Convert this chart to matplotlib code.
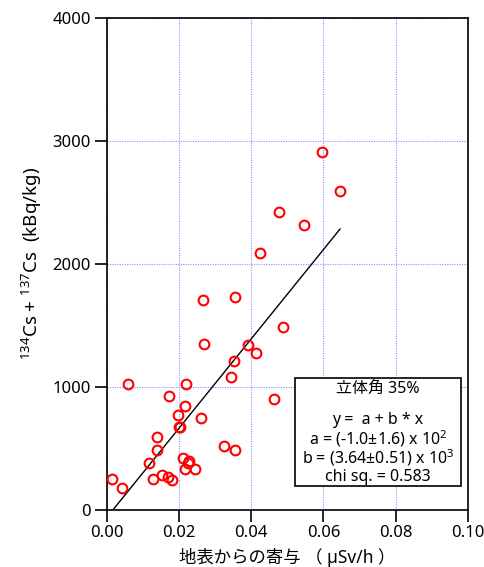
import matplotlib
matplotlib.use("Agg")
import matplotlib.pyplot as plt
from matplotlib.patches import Rectangle
import numpy as np

plt.rcParams['font.family'] = ['Noto Sans', 'Noto Sans CJK JP', 'DejaVu Sans']
plt.rcParams['mathtext.default'] = 'regular'

# Data (x: µSv/h, y: kBq/kg)
x_vals = [0.0596, 0.0646, 0.0478, 0.0545, 0.0423, 0.0265, 0.0355, 0.0488,
          0.0270, 0.0390, 0.0412, 0.0353, 0.0345, 0.0059, 0.0220, 0.0173,
          0.0462, 0.0215, 0.0198, 0.0260, 0.0199, 0.0202, 0.0138, 0.0139,
          0.0324, 0.0355, 0.0116, 0.0211, 0.0227, 0.0224, 0.0215, 0.0244,
          0.0015, 0.0128, 0.0152, 0.0170, 0.0179, 0.0042]
y_vals = [2908, 2588, 2417, 2314, 2087, 1707, 1729, 1488,
          1350, 1341, 1271, 1211, 1076, 1024, 1019, 927,
          902, 843, 770, 748, 672, 675, 591, 482,
          515, 482, 380, 417, 398, 380, 331, 328,
          249, 246, 279, 266, 238, 171]

# fitted line (as drawn)
fit_a = -63.0
fit_b = 36300.0

box_lines = ["立体角 35%", "", "y =  a + b * x",
             "a = (-1.0±1.6) x 10$^{2}$",
             "b = (3.64±0.51) x 10$^{3}$",
             "chi sq. = 0.583"]

xticks = [0.00, 0.02, 0.04, 0.06, 0.08, 0.10]
yticks = [0, 1000, 2000, 3000, 4000]

fig = plt.figure(figsize=(4.85, 5.67), dpi=100)
ax = fig.add_axes([0.2206, 0.1014, 0.7437, 0.8669])

ax.set_xlim(0, 0.10)
ax.set_ylim(0, 4000)
ax.set_xticks(xticks)
ax.set_xticklabels([f"{v:.2f}" for v in xticks])
ax.set_yticks(yticks)
ax.set_yticklabels([str(v) for v in yticks])
ax.tick_params(direction='out', length=8.5, width=1.2, labelsize=12, colors='black', pad=3)

ax.grid(True, color='#8c8cff', linestyle=(0, (1, 1.2)), linewidth=0.8)
ax.set_axisbelow(True)
for s in ax.spines.values():
    s.set_linewidth(1.2)
    s.set_color('black')

xs = np.array(x_vals)
xl = np.array([xs.min(), xs.max()])
ax.plot(xl, fit_a + fit_b * xl, color='black', lw=1.0, zorder=3)

ax.plot(x_vals, y_vals, linestyle='none', marker='o', ms=7, mfc='none',
        mec='#ff0000', mew=1.5, zorder=4, clip_on=False)

ax.set_xlabel("地表からの寄与 （ µSv/h ）", fontsize=12.5, labelpad=5)
ax.set_ylabel("$^{134}$Cs + $^{137}$Cs  (kBq/kg)", fontsize=13.5, labelpad=6)

rect = Rectangle((0.521, 0.0478), 0.460, 0.2197, transform=ax.transAxes,
                 facecolor='white', edgecolor='black', lw=1.2, zorder=5)
ax.add_patch(rect)
ys = [0.245, 0.0, 0.183, 0.145, 0.1065, 0.0665]
for t, yy in zip(box_lines, ys):
    if t:
        ax.text(0.751, yy, t, transform=ax.transAxes, ha='center', va='center',
                fontsize=11.5, zorder=6)

fig.savefig("out.png", dpi=100)
